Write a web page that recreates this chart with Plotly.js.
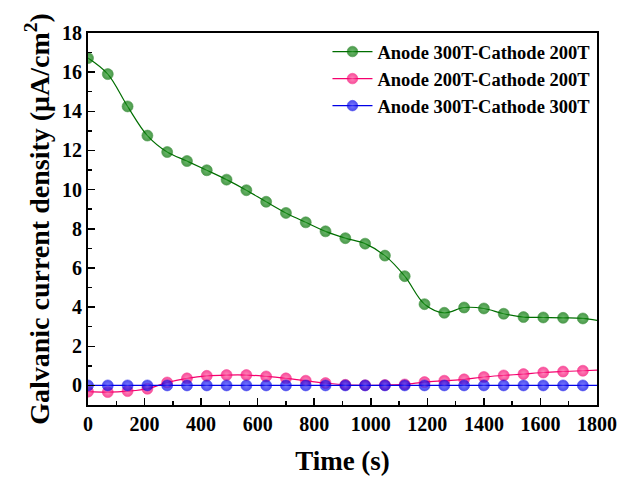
<!DOCTYPE html>
<html>
<head>
<meta charset="utf-8">
<script src="https://cdn.plot.ly/plotly-3.0.1.min.js"></script>
<style>html,body{margin:0;padding:0;background:#fff;}#chart{width:630px;height:480px;}</style>
</head>
<body>
<div id="chart"></div>
<script>
// Time (s); markers every 70 s, curves continue to 1800 s
var time = [0,70,140,210,280,350,420,490,560,630,700,770,840,910,980,1050,1120,1190,1260,1330,1400,1470,1540,1610,1680,1750,1800];
var a300c200 = [16.72,15.9,14.25,12.76,11.92,11.46,10.99,10.51,9.97,9.38,8.81,8.33,7.87,7.52,7.24,6.63,5.58,4.15,3.71,3.98,3.93,3.66,3.49,3.47,3.45,3.42,3.32];
var a200c200 = [-0.32,-0.34,-0.29,-0.17,0.15,0.36,0.49,0.53,0.53,0.46,0.36,0.24,0.12,0.03,0.01,0.02,0.05,0.17,0.24,0.31,0.43,0.51,0.58,0.66,0.71,0.75,0.78];
var a300c300 = [0,0,0,0,0,0,0,0,0,0,0,0,0,0,0,0,0,0,0,0,0,0,0,0,0,0,0];
var seriesNames = ['Anode 300T-Cathode 200T','Anode 200T-Cathode 200T','Anode 300T-Cathode 300T'];
var xTicks = [0,200,400,600,800,1000,1200,1400,1600,1800];
var yTicks = [0,2,4,6,8,10,12,14,16,18];

var fontFam = '"Liberation Serif", "Times New Roman", serif';
function sizes(n){ var s=[]; for (var i=0;i<n;i++) s.push(i===n-1?0:11); return s; }
function mk(y, name, color, light){
  return {
    x: time, y: y, name: '<b>' + name + '</b>', type: 'scatter', mode: 'lines+markers',
    line: {color: color, width: 1.2, shape: 'spline', smoothing: 1},
    marker: {size: sizes(time.length), color: color,
             gradient: {type: 'radial', color: light},
             line: {width: 0.6, color: color}}
  };
}
var data = [
  mk(a300c200, seriesNames[0], '#006e00', '#2f9f2f'),
  mk(a200c200, seriesNames[1], '#f5006e', '#ff5aa2'),
  mk(a300c300, seriesNames[2], '#0000e6', '#4545ff')
];
var axisCommon = {
  showline: true, linewidth: 2, linecolor: '#000', mirror: true,
  ticks: 'inside', ticklen: 7, tickwidth: 1.5, tickcolor: '#000',
  showgrid: false, zeroline: false,
  tickfont: {family: fontFam, size: 20, color: '#000', weight: 700}
};
var layout = {
  width: 630, height: 480,
  margin: {l: 88, r: 33, t: 33, b: 75},
  paper_bgcolor: '#fff', plot_bgcolor: '#fff',
  showlegend: true,
  legend: {x: 0.997, y: 1.0, xanchor: 'right', yanchor: 'top',
           bgcolor: 'rgba(0,0,0,0)', borderwidth: 0,
           font: {family: fontFam, size: 18.5, color: '#000', weight: 700},
           tracegroupgap: 0, itemwidth: 40},
  xaxis: Object.assign({}, axisCommon, {
    range: [0, 1800], tickvals: xTicks, ticktext: xTicks.map(function(v){return '<b>'+v+'</b>';}),
    minor: {dtick: 100, tick0: 0, ticks: 'inside', ticklen: 4, tickwidth: 1.5, tickcolor: '#000'},
    title: {text: '<b>Time (s)</b>', font: {family: fontFam, size: 27, color: '#000', weight: 700}, standoff: 17}
  }),
  yaxis: Object.assign({}, axisCommon, {
    range: [-1, 18], tickvals: yTicks, ticktext: yTicks.map(function(v){return '<b>'+v+'</b>';}),
    minor: {dtick: 1, tick0: 0, ticks: 'inside', ticklen: 4, tickwidth: 1.5, tickcolor: '#000'},
    title: {text: '<b>Galvanic current density (μA/cm<sup>2</sup>)</b>', font: {family: fontFam, size: 28, color: '#000', weight: 700}, standoff: 4}
  })
};
Plotly.newPlot('chart', data, layout, {displayModeBar: false, staticPlot: true});
</script>
</body>
</html>
